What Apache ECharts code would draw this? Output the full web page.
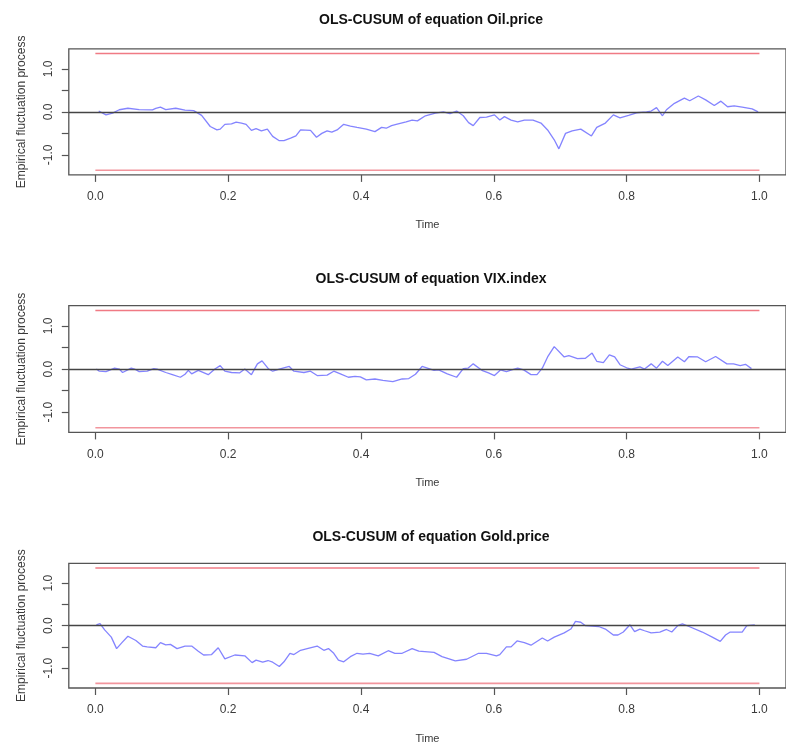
<!DOCTYPE html>
<html>
<head>
<meta charset="utf-8">
<script src="https://cdn.jsdelivr.net/npm/echarts@6/dist/echarts.min.js"></script>
<style>html,body{margin:0;padding:0;background:#fff;}#c{width:786px;height:745px;}</style>
</head>
<body>
<div id="c"></div>
<script>
// ---- data ----
const panelTitles = ['OLS-CUSUM of equation Oil.price', 'OLS-CUSUM of equation VIX.index', 'OLS-CUSUM of equation Gold.price'];
const boundary = 1.358;
const xTicks = [0, 0.2, 0.4, 0.6, 0.8, 1.0];
const yTicks = [-1, -0.5, 0, 0.5, 1];
const yLabelTicks = [-1, 0, 1];

const oilTime = [0.005,0.016,0.026,0.036,0.049,0.066,0.086,0.091,0.098,0.106,0.121,0.135,0.148,0.160,0.173,0.183,0.188,0.195,0.205,0.212,0.220,0.227,0.235,0.242,0.250,0.259,0.267,0.277,0.284,0.294,0.302,0.309,0.324,0.333,0.341,0.349,0.356,0.364,0.374,0.384,0.394,0.408,0.421,0.431,0.438,0.446,0.453,0.468,0.477,0.485,0.497,0.512,0.524,0.534,0.544,0.554,0.562,0.569,0.579,0.589,0.601,0.609,0.616,0.626,0.636,0.646,0.659,0.671,0.681,0.691,0.698,0.708,0.718,0.731,0.747,0.755,0.768,0.780,0.790,0.803,0.815,0.830,0.837,0.845,0.854,0.860,0.872,0.887,0.895,0.908,0.919,0.932,0.942,0.952,0.962,0.974,0.989,0.998];
const oilCusum = [0.02,-0.07,-0.03,0.05,0.085,0.055,0.047,0.08,0.11,0.055,0.085,0.04,0.03,-0.08,-0.34,-0.42,-0.40,-0.29,-0.28,-0.24,-0.26,-0.29,-0.43,-0.39,-0.44,-0.40,-0.57,-0.67,-0.67,-0.61,-0.56,-0.42,-0.43,-0.59,-0.50,-0.44,-0.47,-0.42,-0.29,-0.33,-0.36,-0.40,-0.46,-0.36,-0.38,-0.32,-0.29,-0.23,-0.19,-0.21,-0.09,-0.03,0.0,-0.04,0.02,-0.09,-0.25,-0.32,-0.13,-0.12,-0.07,-0.19,-0.11,-0.19,-0.23,-0.19,-0.19,-0.26,-0.42,-0.65,-0.86,-0.50,-0.44,-0.40,-0.56,-0.36,-0.26,-0.07,-0.14,-0.08,-0.02,0.0,0.02,0.10,-0.09,0.05,0.20,0.32,0.26,0.37,0.28,0.15,0.25,0.12,0.14,0.11,0.07,0.0];

const vixTime = [0.0015,0.006,0.016,0.029,0.036,0.041,0.054,0.059,0.066,0.078,0.088,0.093,0.106,0.116,0.128,0.135,0.140,0.145,0.155,0.170,0.180,0.188,0.195,0.205,0.217,0.225,0.235,0.244,0.251,0.261,0.267,0.277,0.292,0.299,0.314,0.324,0.334,0.349,0.359,0.369,0.381,0.391,0.399,0.408,0.421,0.433,0.448,0.462,0.472,0.482,0.492,0.500,0.510,0.517,0.530,0.544,0.554,0.561,0.569,0.582,0.592,0.601,0.610,0.619,0.627,0.636,0.645,0.656,0.665,0.673,0.681,0.691,0.706,0.713,0.726,0.738,0.748,0.755,0.765,0.774,0.782,0.790,0.800,0.807,0.820,0.827,0.837,0.845,0.854,0.862,0.877,0.887,0.894,0.907,0.919,0.934,0.951,0.961,0.971,0.979,0.988];
const vixCusum = [0,-0.05,-0.06,0.02,0,-0.08,0.02,0,-0.06,-0.05,0.01,0,-0.08,-0.13,-0.19,-0.12,-0.03,-0.11,-0.03,-0.13,0,0.08,-0.05,-0.08,-0.09,0,-0.13,0.12,0.19,0,-0.05,0,0.06,-0.05,-0.08,-0.05,-0.15,-0.14,-0.05,-0.11,-0.19,-0.17,-0.18,-0.25,-0.23,-0.26,-0.29,-0.23,-0.22,-0.12,0.06,0.02,-0.03,-0.02,-0.11,-0.19,0.01,0.02,0.12,-0.03,-0.09,-0.15,-0.02,-0.06,-0.02,0.02,-0.02,-0.13,-0.13,0.02,0.28,0.52,0.28,0.31,0.24,0.25,0.37,0.18,0.15,0.33,0.28,0.10,0.03,0,0.05,0,0.12,0.02,0.18,0.08,0.28,0.17,0.29,0.28,0.17,0.29,0.12,0.12,0.08,0.11,0.01];

const goldTime = [0.0015,0.007,0.014,0.024,0.032,0.040,0.049,0.061,0.071,0.078,0.091,0.098,0.106,0.113,0.123,0.135,0.145,0.155,0.163,0.175,0.185,0.195,0.210,0.225,0.236,0.242,0.252,0.260,0.267,0.277,0.284,0.293,0.299,0.309,0.319,0.334,0.344,0.351,0.359,0.366,0.374,0.384,0.394,0.403,0.413,0.426,0.441,0.451,0.462,0.477,0.487,0.510,0.522,0.542,0.559,0.577,0.589,0.604,0.609,0.619,0.626,0.635,0.646,0.656,0.673,0.681,0.691,0.706,0.716,0.723,0.731,0.738,0.758,0.768,0.780,0.787,0.795,0.805,0.812,0.820,0.827,0.837,0.850,0.860,0.868,0.877,0.884,0.894,0.914,0.929,0.941,0.949,0.956,0.974,0.981,0.993];
const goldCusum = [0.02,0.05,-0.10,-0.27,-0.54,-0.40,-0.25,-0.35,-0.48,-0.50,-0.52,-0.40,-0.45,-0.44,-0.54,-0.48,-0.48,-0.60,-0.69,-0.68,-0.52,-0.78,-0.69,-0.71,-0.87,-0.81,-0.86,-0.82,-0.86,-0.96,-0.85,-0.65,-0.68,-0.58,-0.54,-0.48,-0.58,-0.54,-0.65,-0.81,-0.85,-0.73,-0.65,-0.67,-0.65,-0.71,-0.59,-0.65,-0.65,-0.54,-0.60,-0.63,-0.73,-0.83,-0.79,-0.65,-0.65,-0.71,-0.68,-0.50,-0.50,-0.36,-0.40,-0.46,-0.29,-0.36,-0.27,-0.17,-0.08,0.10,0.08,0,-0.02,-0.08,-0.22,-0.22,-0.15,0.02,-0.14,-0.08,-0.12,-0.17,-0.15,-0.09,-0.15,0,0.04,-0.02,-0.15,-0.27,-0.37,-0.22,-0.15,-0.15,0,0.02];

const panelTimes = [oilTime, vixTime, goldTime];
const panelValues = [oilCusum, vixCusum, goldCusum];

// ---- layout ----
const FONT = "'Liberation Sans', Arial, sans-serif";
const xMin = -0.04, xMax = 1.04, yLim = 1.4667;
const gridTops = [48.9, 305.7, 563.3];
const gridHeights = [126, 126.7, 126.5];
const titleYs = [20, 279.5, 537];
const boxColor = '#555';
const textColor = '#3a3a3a';

const grids = [], xAxes = [], yAxes = [], series = [], graphics = [];
for (let i = 0; i < 3; i++) {
  grids.push({left: 68.8, top: gridTops[i], width: 725.3, height: gridHeights[i], show: true,
    borderColor: boxColor, borderWidth: 1.3, backgroundColor: 'transparent', containLabel: false});
  xAxes.push({gridIndex: i, type: 'value', min: xMin, max: xMax, position: 'bottom',
    axisLine: {show: false, onZero: false}, splitLine: {show: false},
    axisTick: {show: true, length: 7, customValues: xTicks, lineStyle: {color: boxColor, width: 1.2}},
    axisLabel: {customValues: xTicks, margin: 16, fontSize: 12, fontFamily: FONT, color: textColor,
      formatter: v => Number(v).toFixed(1)},
    name: 'Time', nameLocation: 'middle', nameGap: 45,
    nameTextStyle: {fontSize: 11, fontFamily: FONT, color: textColor}});
  yAxes.push({gridIndex: i, type: 'value', min: -yLim, max: yLim, position: 'left',
    axisLine: {show: false, onZero: false}, splitLine: {show: false},
    axisTick: {show: true, length: 7, customValues: yTicks, lineStyle: {color: boxColor, width: 1.2}},
    axisLabel: {customValues: yLabelTicks, rotate: 90, margin: 14, fontSize: 12, fontFamily: FONT, color: textColor,
      formatter: v => Number(v).toFixed(1)},
    name: 'Empirical fluctuation process', nameLocation: 'middle', nameGap: 41,
    nameTextStyle: {fontSize: 12, fontFamily: FONT, color: textColor}});
  const xs = panelTimes[i], ys = panelValues[i];
  // boundaries
  series.push({type: 'line', xAxisIndex: i, yAxisIndex: i, symbol: 'none', silent: true, z: 1,
    data: [[xTicks[0], boundary], [xTicks[xTicks.length - 1], boundary]],
    lineStyle: {color: '#f07a84', width: 1.5},
    markLine: {silent: true, symbol: 'none', label: {show: false}, animation: false,
      lineStyle: {color: '#444', width: 1.3, type: 'solid'}, data: [{yAxis: 0}]}});
  series.push({type: 'line', xAxisIndex: i, yAxisIndex: i, symbol: 'none', silent: true, z: 1,
    data: [[xTicks[0], -boundary], [xTicks[xTicks.length - 1], -boundary]],
    lineStyle: {color: '#f2959d', width: 1.6}});
  series.push({type: 'line', xAxisIndex: i, yAxisIndex: i, symbol: 'none', z: 3,
    data: xs.map((t, k) => [t, ys[k]]),
    lineStyle: {color: 'rgba(85,85,255,0.72)', width: 1.3}});
  graphics.push({type: 'text', x: 431, y: titleYs[i],
    style: {text: panelTitles[i], textAlign: 'center', textVerticalAlign: 'middle',
      font: 'bold 14px ' + FONT, fill: '#111'}});
}

const chart = echarts.init(document.getElementById('c'), null, {renderer: 'canvas'});
chart.setOption({animation: false, grid: grids, xAxis: xAxes, yAxis: yAxes, series: series, graphic: graphics});
</script>
</body>
</html>
